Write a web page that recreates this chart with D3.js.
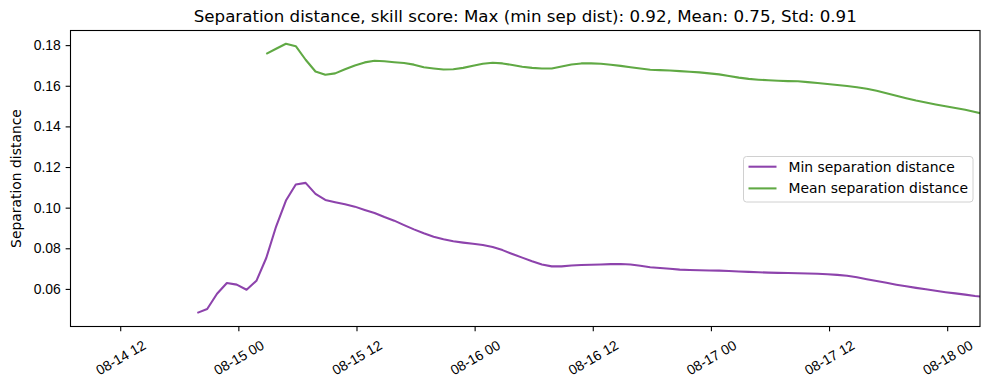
<!DOCTYPE html>
<html>
<head>
<meta charset="utf-8">
<script src="https://cdn.jsdelivr.net/npm/d3@7"></script>
<style>
  body { margin: 0; background: #fff; }
  svg { display: block; font-family: "DejaVu Sans", sans-serif; }
</style>
</head>
<body>
<svg id="chart" width="989" height="390"></svg>
<script>
// ---- data (hourly samples, HH:50 UTC) ----
const startTime = "2024-08-14T19:50:00Z";
const minSep = [
  0.0482, 0.0501, 0.0576, 0.0629, 0.0621, 0.0596, 0.0640, 0.0752, 0.0907, 0.1035,
  0.1114, 0.1122, 0.1068, 0.1038, 0.1027, 0.1017, 0.1005, 0.0989, 0.0974, 0.0954,
  0.0936, 0.0914, 0.0893, 0.0874, 0.0857, 0.0844, 0.0835, 0.0828, 0.0822, 0.0816,
  0.0806, 0.0791, 0.0772, 0.0754, 0.0736, 0.0720, 0.0711, 0.0711, 0.0715, 0.0718,
  0.0719, 0.0720, 0.0722, 0.0723, 0.0720, 0.0714, 0.0707, 0.0703, 0.0699, 0.0695,
  0.0693, 0.0692, 0.0691, 0.0690, 0.0688, 0.0686, 0.0684, 0.0682, 0.0680, 0.0679,
  0.0678, 0.0677, 0.0676, 0.0675, 0.0672, 0.0669, 0.0665, 0.0657, 0.0648, 0.0639,
  0.0630, 0.0621, 0.0613, 0.0605, 0.0598, 0.0591, 0.0584, 0.0578, 0.0572, 0.0565,
  0.0560
];
// mean series starts 7 samples later
const meanOffset = 7;
const meanSep = [
  0.1757, 0.1782, 0.1807, 0.1795, 0.1728, 0.1670, 0.1654, 0.1661, 0.1681, 0.1700,
  0.1715, 0.1723, 0.1721, 0.1716, 0.1712, 0.1704, 0.1691, 0.1685, 0.1680, 0.1681,
  0.1688, 0.1698, 0.1708, 0.1713, 0.1710, 0.1702, 0.1694, 0.1688, 0.1685, 0.1685,
  0.1695, 0.1705, 0.1710, 0.1710, 0.1708, 0.1703, 0.1698, 0.1691, 0.1685, 0.1679,
  0.1677, 0.1675, 0.1672, 0.1669, 0.1666, 0.1661, 0.1656, 0.1648, 0.1640, 0.1634,
  0.1630, 0.1627, 0.1625, 0.1623, 0.1622, 0.1618, 0.1614, 0.1609, 0.1604, 0.1599,
  0.1593, 0.1585, 0.1575, 0.1563, 0.1551, 0.1539, 0.1527, 0.1518, 0.1508, 0.1499,
  0.1491, 0.1482, 0.1471, 0.1460
];
const yTicks = [0.06, 0.08, 0.10, 0.12, 0.14, 0.16, 0.18];
const xTickTimes = ["2024-08-14T12:00:00Z","2024-08-15T00:00:00Z","2024-08-15T12:00:00Z",
  "2024-08-16T00:00:00Z","2024-08-16T12:00:00Z","2024-08-17T00:00:00Z",
  "2024-08-17T12:00:00Z","2024-08-18T00:00:00Z"];
const xDomain = ["2024-08-14T06:57:00Z", "2024-08-18T03:20:00Z"];
const yDomain = [0.0415, 0.1872];
const seriesNames = ["Min separation distance", "Mean separation distance"];
const seriesColors = ["#8d43ac", "#60a944"];
const titleText = "Separation distance, skill score: Max (min sep dist): 0.92, Mean: 0.75, Std: 0.91";
const yLabel = "Separation distance";

// ---- layout ----
const margin = {left: 70.5, right: 989 - 980, top: 30.5, bottom: 390 - 326.5};
const W = 989, H = 390;
const svg = d3.select("#chart");
const iw = W - margin.left - margin.right, ih = H - margin.top - margin.bottom;
const tickLen = 4.86, tickPad = 4.86;

const t0 = new Date(startTime).getTime();
const hour = 3600 * 1000;
const minData = minSep.map((v, i) => ({t: new Date(t0 + i * hour), v}));
const meanData = meanSep.map((v, i) => ({t: new Date(t0 + (i + meanOffset) * hour), v}));

const x = d3.scaleUtc().domain(xDomain.map(d => new Date(d))).range([0, iw]);
const y = d3.scaleLinear().domain(yDomain).range([ih, 0]);

const g = svg.append("g").attr("transform", `translate(${margin.left},${margin.top})`);

svg.append("defs").append("clipPath").attr("id", "clip")
  .append("rect").attr("width", iw).attr("height", ih);

const line = d3.line().x(d => x(d.t)).y(d => y(d.v));
const plot = g.append("g").attr("clip-path", "url(#clip)");
[minData, meanData].forEach((data, k) => {
  plot.append("path").datum(data)
    .attr("fill", "none").attr("stroke", seriesColors[k])
    .attr("stroke-width", 2.08).attr("stroke-linejoin", "round")
    .attr("d", line);
});

// axes
const fmt = d3.utcFormat("%m-%d %H");
const xAxis = d3.axisBottom(x).tickValues(xTickTimes.map(d => new Date(d)))
  .tickFormat(fmt).tickSize(tickLen).tickPadding(tickPad);
const xg = g.append("g").attr("transform", `translate(0,${ih})`).call(xAxis);
xg.select(".domain").remove();
xg.selectAll(".tick line").attr("stroke", "#000").attr("stroke-width", 1.1);
xg.selectAll(".tick text")
  .attr("font-size", 13.9).attr("fill", "#000")
  .attr("text-anchor", "middle").attr("dy", null).attr("y", null)
  .attr("dominant-baseline", "central")
  .attr("transform", "translate(0,31) rotate(-30)");

const yAxis = d3.axisLeft(y).tickValues(yTicks).tickFormat(d3.format(".2f"))
  .tickSize(tickLen).tickPadding(tickPad);
const yg = g.append("g").call(yAxis);
yg.select(".domain").remove();
yg.selectAll(".tick line").attr("stroke", "#000").attr("stroke-width", 1.1);
yg.selectAll(".tick text").attr("font-size", 13.9).attr("fill", "#000");

// frame
g.append("rect").attr("width", iw).attr("height", ih)
  .attr("fill", "none").attr("stroke", "#000").attr("stroke-width", 1.1);

// title
svg.append("text").attr("x", margin.left + iw / 2).attr("y", 22)
  .attr("text-anchor", "middle").attr("font-size", 16.67).attr("fill", "#000")
  .text(titleText);

// y label
svg.append("text").attr("transform", `translate(21,${margin.top + ih / 2}) rotate(-90)`)
  .attr("text-anchor", "middle").attr("font-size", 13.9).attr("fill", "#000")
  .text(yLabel);

// legend
const lg = svg.append("g");
lg.append("rect").attr("x", 743.5).attr("y", 156.5).attr("width", 229.5).attr("height", 45.5)
  .attr("rx", 3).attr("fill", "#fff").attr("fill-opacity", 0.8)
  .attr("stroke", "#d0d0d0").attr("stroke-width", 1);
seriesNames.forEach((name, k) => {
  const yy = 166.7 + k * 21.7;
  lg.append("line").attr("x1", 748.5).attr("x2", 776.5).attr("y1", yy).attr("y2", yy)
    .attr("stroke", seriesColors[k]).attr("stroke-width", 2.08);
  lg.append("text").attr("x", 788.5).attr("y", yy).attr("dominant-baseline", "central")
    .attr("font-size", 13.9).attr("fill", "#000").text(name);
});
</script>
</body>
</html>
